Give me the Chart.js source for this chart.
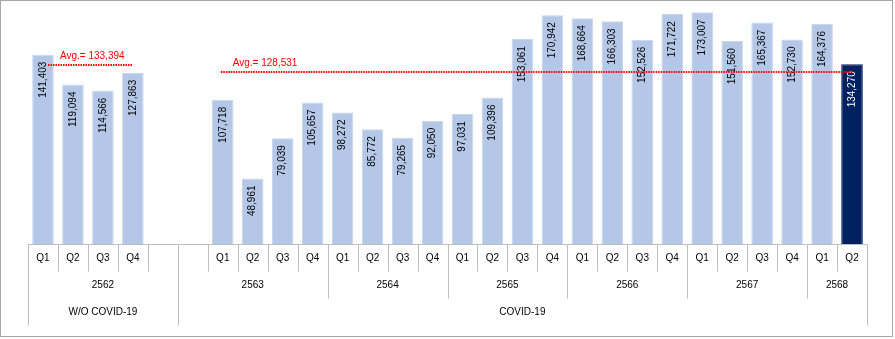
<!DOCTYPE html>
<html><head><meta charset="utf-8">
<script src="https://cdn.jsdelivr.net/npm/chart.js@4"></script>
<style>html,body{margin:0;padding:0;background:#fff}#wrap{width:895px;height:339px;position:relative}</style>
</head><body><div id="wrap"><canvas id="c" width="895" height="339"></canvas></div>
<script>
const quarters = ['Q1','Q2','Q3','Q4','','','Q1','Q2','Q3','Q4','Q1','Q2','Q3','Q4','Q1','Q2','Q3','Q4','Q1','Q2','Q3','Q4','Q1','Q2','Q3','Q4','Q1','Q2'];
const values = [141403,119094,114566,127863,null,null,107718,48961,79039,105657,98272,85772,79265,92050,97031,109396,153061,170942,168664,166303,152526,171722,173007,151560,165367,152730,164376,134270];
const valueLabels = ['141,403','119,094','114,566','127,863','','','107,718','48,961','79,039','105,657','98,272','85,772','79,265','92,050','97,031','109,396','153,061','170,942','168,664','166,303','152,526','171,722','173,007','151,560','165,367','152,730','164,376','134,270'];
const yearLabels = ['2562','2563','2564','2565','2566','2567','2568'];
const yearSpans = [5,5,4,4,4,4,2];
const groupLabels = ['W/O COVID-19','COVID-19'];
const groupSpans = [5,23];
const avgValues = [133394,128531];
const avgLabels = ['Avg.= 133,394','Avg.= 128,531'];
const avgFrom = [0,6];
const avgTo = [3,27];

const LIGHT = '#B4C7E7', DARK = '#002060';
const barColors = values.map((v,i)=> i===values.length-1 ? DARK : LIGHT);
const FONT = '10px "Liberation Sans", Arial, sans-serif';

const overlay = {
  id:'overlay',
  afterDatasetsDraw(chart){
    const ctx = chart.ctx, x = chart.scales.x, y = chart.scales.y;
    const meta = chart.getDatasetMeta(0);
    ctx.save();
    ctx.font = FONT;
    ctx.textBaseline = 'middle';
    ctx.textAlign = 'right';
    meta.data.forEach((bar,i)=>{
      if(values[i]==null) return;
      ctx.save();
      ctx.translate(bar.x, bar.y + 7);
      ctx.rotate(-Math.PI/2);
      ctx.fillStyle = i===values.length-1 ? '#ffffff' : '#000000';
      ctx.fillText(valueLabels[i], 0, 0);
      ctx.restore();
    });
    ctx.restore();
    ctx.save();
    avgValues.forEach((v,k)=>{
      const py = Math.round(y.getPixelForValue(v));
      const x0 = x.getPixelForValue(avgFrom[k]) + (k===0?5:-2);
      const x1 = x.getPixelForValue(avgTo[k]);
      ctx.strokeStyle = '#FF0000';
      ctx.lineWidth = 2;
      ctx.setLineDash([1.5,1]);
      ctx.beginPath(); ctx.moveTo(x0,py); ctx.lineTo(x1,py); ctx.stroke();
      ctx.setLineDash([]);
      ctx.fillStyle = '#FF0000';
      ctx.font = '10px "Liberation Sans", Arial, sans-serif';
      ctx.textAlign = 'left'; ctx.textBaseline = 'alphabetic';
      ctx.fillText(avgLabels[k], x.getPixelForValue(avgFrom[k]) + (k===0?17:10), py - 6);
    });
    ctx.restore();
  },
  afterDraw(chart){
    const ctx = chart.ctx, x = chart.scales.x, area = chart.chartArea;
    const n = quarters.length;
    const w = (x.getPixelForValue(1) - x.getPixelForValue(0));
    const edge = i => x.getPixelForValue(i) - w/2;
    const base = Math.round(area.bottom) + 0.5;
    const rowH = 27;
    ctx.save();
    ctx.strokeStyle = '#BFBFBF';
    ctx.lineWidth = 1;
    ctx.beginPath(); ctx.moveTo(edge(0), base); ctx.lineTo(edge(n), base); ctx.stroke();
    const groupEdges = [0]; groupSpans.reduce((a,s)=>{groupEdges.push(a+s); return a+s;},0);
    const yearEdges = [0]; yearSpans.reduce((a,s)=>{yearEdges.push(a+s); return a+s;},0);
    for(let i=0;i<=n;i++){
      let depth = 1;
      if(yearEdges.includes(i)) depth = 2;
      if(groupEdges.includes(i)) depth = 3;
      const px = Math.round(edge(i)) + 0.5;
      ctx.beginPath(); ctx.moveTo(px, base); ctx.lineTo(px, base + rowH*depth); ctx.stroke();
    }
    ctx.fillStyle = '#000';
    ctx.font = FONT;
    ctx.textAlign = 'center'; ctx.textBaseline = 'middle';
    quarters.forEach((q,i)=>{ if(q) ctx.fillText(q, x.getPixelForValue(i), base + rowH*0.5); });
    yearLabels.forEach((t,k)=>{ const a=edge(yearEdges[k]), b=edge(yearEdges[k+1]); ctx.fillText(t,(a+b)/2, base + rowH*1.5); });
    groupLabels.forEach((t,k)=>{ const a=edge(groupEdges[k]), b=edge(groupEdges[k+1]); ctx.fillText(t,(a+b)/2, base + rowH*2.5); });
    ctx.strokeStyle = '#A6A6A6';
    ctx.strokeRect(0.5, 0.5, 892, 336);
    ctx.restore();
  }
};

new Chart(document.getElementById('c'), {
  type:'bar',
  data:{ labels: quarters, datasets:[{ data: values, backgroundColor: barColors, borderColor: values.map((v,i)=> i===values.length-1 ? DARK : '#C8D6EE'), borderWidth:1, categoryPercentage:1, barPercentage:0.72 }]},
  options:{
    responsive:false, animation:false, devicePixelRatio:1,
    layout:{ padding:{ left:28, right:28, top:3, bottom:95 } },
    plugins:{ legend:{display:false}, tooltip:{enabled:false} },
    scales:{
      x:{ display:false, offset:true },
      y:{ display:false, min:0, max:180000 }
    }
  },
  plugins:[overlay]
});
</script>
</body></html>
